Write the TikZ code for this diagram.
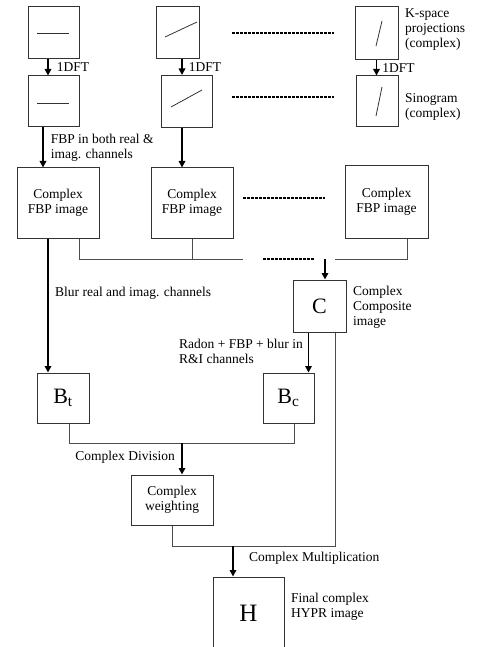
\documentclass[tikz,border=0pt]{standalone}
\usepackage{fontspec}
\setmainfont{Liberation Serif}
\usepackage{tikz}
\usetikzlibrary{arrows.meta,positioning,calc}
\definecolor{boxgray}{HTML}{333333}
\definecolor{linegray}{HTML}{4D4D4D}

\begin{document}
\begin{tikzpicture}[x=1pt,y=-1pt,
			box/.style={draw=boxgray,line width=1pt,inner sep=0pt,align=center,font=\fontsize{13.5}{15}\selectfont},
			big/.style={box,font=\fontsize{22}{24}\selectfont},
			lbl/.style={anchor=west,inner sep=0pt,align=left,font=\fontsize{13.5}{15}\selectfont},
			arr/.style={-{Triangle[length=6.5pt,width=6.5pt]},line width=1.6pt,black},
			bus/.style={draw=linegray,line width=0.9pt},
			trace/.style={draw=boxgray,line width=0.8pt},
			dots/.style={line width=1.3pt,dash pattern=on 3pt off 1pt}
			]
			\useasboundingbox (0,0) rectangle (487,647);
			\node[box,minimum width=51pt,minimum height=52pt] (k1) at (53.5,33) {};
			\node[box,minimum width=43pt,minimum height=52pt] (k2) at (177.5,33) {};
			\node[box,minimum width=43pt,minimum height=53pt] (k3) at (376.5,33) {};
			\node[box,minimum width=51pt,minimum height=51pt] (s1) at (53.5,101.5) {};
			\node[box,minimum width=51pt,minimum height=52pt] (s2) at (186.5,101.5) {};
			\node[box,minimum width=42pt,minimum height=51pt] (s3) at (377,101.5) {};
			\node[box,minimum width=82pt,minimum height=70pt] (f1) at (58,203) {Complex\\FBP image};
			\node[box,minimum width=82pt,minimum height=70pt] (f2) at (192,203) {Complex\\FBP image};
			\node[box,minimum width=83pt,minimum height=72pt] (f3) at (386.5,202) {Complex\\FBP image};
			\node[big,minimum width=53pt,minimum height=52pt] (cbox) at (319.5,306) {C};
			\node[big,minimum width=52pt,minimum height=50pt] (bt) at (63,398) {B\textsubscript{t}};
			\node[big,minimum width=51pt,minimum height=50pt] (bc) at (288.5,398) {B\textsubscript{c}};
			\node[box,minimum width=82pt,minimum height=50pt] (wt) at (172,500) {Complex\\weighting};
			\node[big,minimum width=71pt,minimum height=73pt,font=\fontsize{25}{27}\selectfont] (hb) at (248.5,613.5) {H};
			\draw[trace] (37,33) -- (69,33);
			\draw[trace] (37,103) -- (69,103);
			\draw[trace] (165,37) -- (197,22);
			\draw[trace] (171,107) -- (202,90);
			\draw[trace] (376,46) -- (382,21);
			\draw[trace] (376,116) -- (382,87);
			\draw[dots] (232,33) -- (334,33);
			\draw[dots] (232,97) -- (334,97);
			\draw[dots] (243,198) -- (325,198);
			\node[lbl] (kl) at (405,30) {K-space\\projections\\(complex)};
			\node[lbl] (sl) at (405,107) {Sinogram\\(complex)};
			\draw[arr] ([xshift=-5.5pt]k1.south) -- ([xshift=-5.5pt]k1.south |- s1.north) node[lbl,midway,xshift=8pt] {1DFT};
			\draw[arr] ([xshift=4.5pt]k2.south) -- ([xshift=4.5pt]k2.south |- s2.north) node[lbl,midway,xshift=6pt] {1DFT};
			\draw[arr] (k3.south) -- (k3.south |- s3.north) node[lbl,midway,xshift=5pt] {1DFT};
			\draw[arr] ([xshift=-10.5pt]s1.south) -- ([xshift=-10.5pt]s1.south |- f1.north) node[lbl,midway,xshift=7pt] {FBP in both real \&\\imag. channels};
			\draw[arr] ([xshift=-4.5pt]s2.south) -- ([xshift=-4.5pt]s2.south |- f2.north);
			\coordinate (bj) at (325,259);
			\draw[bus] ([xshift=21pt]f1.south) |- (243,259);
			\draw[bus] (f2.south) -- (f2.south |- bj);
			\draw[bus] ([xshift=20.5pt]f3.south) |- (335,259);
			\draw[dots] (263,259) -- (315,259);
			\draw[arr] (bj) -- (bj |- cbox.north);
			\node[lbl] (cl) at (353,307) {Complex\\Composite\\image};
			\draw[arr] ([xshift=-10pt]f1.south) -- ([xshift=-10pt]f1.south |- bt.north);
			\node[lbl] (bl) at (55,293) {Blur real and imag. channels};
			\draw[arr] ([xshift=-11pt]cbox.south) -- ([xshift=-11pt]cbox.south |- bc.north);
			\node[lbl] (rl) at (179,351) {Radon + FBP + blur in\\R\&I channels};
			\coordinate (dj) at (182,443);
			\draw[bus] ([xshift=6pt]bt.south) |- ([xshift=5.5pt]bc.south |- dj) -- ([xshift=5.5pt]bc.south);
			\draw[arr] (dj) -- (dj |- wt.north);
			\node[lbl,anchor=east] (dl) at (175,457) {Complex Division};
			\coordinate (mj) at (233,546);
			\draw[bus] (wt.south) |- ([xshift=15.5pt]cbox.south |- mj) -- ([xshift=15.5pt]cbox.south);
			\draw[arr] (mj) -- (mj |- hb.north);
			\node[lbl] (ml) at (249,558) {Complex Multiplication};
			\node[lbl] (hl) at (291,606.5) {Final complex\\HYPR image};
		\end{tikzpicture}
\end{document}
